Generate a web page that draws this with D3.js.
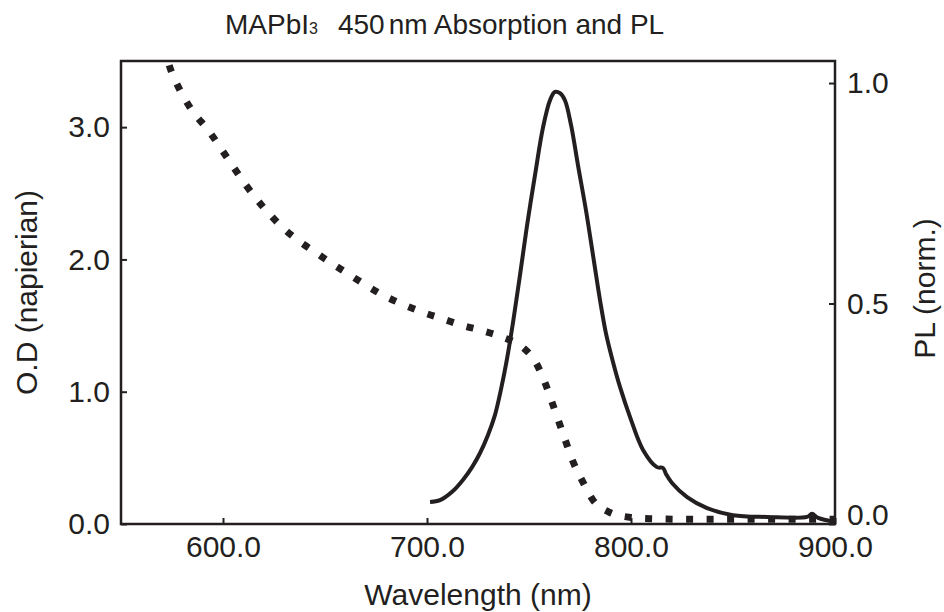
<!DOCTYPE html>
<html lang="en">
<head>
<meta charset="UTF-8">
<title>MAPbI3 450 nm Absorption and PL</title>
<style>
  body { margin: 0; background: #fff; }
  text { font-family: "Liberation Sans", Arial, Helvetica, sans-serif; fill: #231f20; }
</style>
</head>
<body>
<div id="chart"></div>
<script src="https://d3js.org/d3.v7.min.js"></script>
<script>
// absorption (left axis, O.D napierian)
const absNm  = [571, 573, 578.9, 583.8, 593.6, 602, 611.8, 627.9, 647.5, 657.4, 669.6, 678.4, 688.2, 698, 707.8, 717.6, 727.5, 737.3, 746.6, 753.4, 757.8, 761.3, 764.7, 768.1, 771.6, 776, 781.4, 789.2, 799.5, 809.3, 833.8, 900];
const absOD  = [3.62, 3.5, 3.28, 3.15, 2.96, 2.77, 2.55, 2.26, 2.03, 1.93, 1.81, 1.73, 1.66, 1.6, 1.55, 1.5, 1.46, 1.41, 1.34, 1.22, 1.07, 0.92, 0.77, 0.62, 0.47, 0.33, 0.18, 0.09, 0.05, 0.04, 0.035, 0.035];

// photoluminescence (right axis, normalised)
const plNm   = [701.5, 706.4, 712.3, 717.6, 722.1, 726, 729.9, 733.3, 736.3, 739.2, 742.2, 745.6, 749, 752.9, 756.9, 760.3, 762.7, 765.2, 767.6, 770.6, 774, 777.9, 781.9, 784.8, 787.7, 791.2, 794.6, 799.5, 805.9, 812.7, 815.7, 817.2, 820.1, 827.5, 837.3, 850, 866.7, 886.3, 888.7, 891.7, 900];
const plVal  = [0.05, 0.054, 0.073, 0.1, 0.129, 0.161, 0.202, 0.247, 0.306, 0.374, 0.458, 0.565, 0.676, 0.79, 0.9, 0.961, 0.98, 0.977, 0.961, 0.905, 0.814, 0.712, 0.594, 0.508, 0.433, 0.367, 0.311, 0.243, 0.168, 0.129, 0.127, 0.113, 0.093, 0.061, 0.036, 0.02, 0.016, 0.016, 0.023, 0.014, 0.005];

const xTicks = [600, 700, 800, 900];
const yLeftTicks = [0, 1, 2, 3];
const yRightTicks = [0, 0.5, 1.0];

const margin = {top: 61, right: 109, bottom: 88, left: 121},
  width = 944 - margin.left - margin.right,
  height = 612 - margin.top - margin.bottom;

const ink = "#231f20";

const svg = d3.select("#chart")
  .append("svg")
    .attr("width", 944)
    .attr("height", 612);

const g = svg.append("g")
    .attr("transform", `translate(${margin.left},${margin.top})`);

// scales
const x = d3.scaleLinear().domain([550, 900]).range([0, width]);
const yL = d3.scaleLinear().domain([0, 3.5]).range([height, 0]);
const yR = d3.scaleLinear().domain([0, 1.05]).range([height, 0]);

g.append("clipPath").attr("id", "plotclip")
  .append("rect").attr("width", width).attr("height", height);

// curves
const absData = absNm.map((d, i) => [d, absOD[i]]);
const plData = plNm.map((d, i) => [d, plVal[i]]);

g.append("path")
  .datum(absData)
  .attr("clip-path", "url(#plotclip)")
  .attr("fill", "none")
  .attr("stroke", ink)
  .attr("stroke-width", 7)
  .attr("stroke-dasharray", "7,13.5")
  .attr("d", d3.line().x(d => x(d[0])).y(d => yL(d[1])).curve(d3.curveMonotoneX));

g.append("path")
  .datum(plData)
  .attr("clip-path", "url(#plotclip)")
  .attr("fill", "none")
  .attr("stroke", ink)
  .attr("stroke-width", 4)
  .attr("stroke-linejoin", "round")
  .attr("d", d3.line().x(d => x(d[0])).y(d => yR(d[1])).curve(d3.curveCatmullRom.alpha(0.5)));

// axes, ticks pointing in
const fmt = d3.format(".1f");

const xAxis = g.append("g")
  .attr("transform", `translate(0,${height})`)
  .call(d3.axisBottom(x).tickValues(xTicks).tickFormat(fmt).tickSize(-6).tickPadding(12));

const leftAxis = g.append("g")
  .call(d3.axisLeft(yL).tickValues(yLeftTicks).tickFormat(fmt).tickSize(-6).tickPadding(11));

const rightAxis = g.append("g")
  .attr("transform", `translate(${width},0)`)
  .call(d3.axisRight(yR).tickValues(yRightTicks).tickFormat(fmt).tickSize(-6).tickPadding(12));

[xAxis, leftAxis, rightAxis].forEach(a => {
  a.select(".domain").remove();
  a.selectAll(".tick line").attr("stroke", ink).attr("stroke-width", 2);
  a.selectAll(".tick text").attr("font-size", 30).attr("fill", ink)
    .style("font-family", "'Liberation Sans', Arial, sans-serif");
});

// lift the right-hand 0.0 clear of the 900.0 label
rightAxis.selectAll(".tick text").filter(d => d === 0).attr("dy", "0.0em");

// frame
g.append("rect")
  .attr("width", width)
  .attr("height", height)
  .attr("fill", "none")
  .attr("stroke", ink)
  .attr("stroke-width", 2.5);

// axis titles
svg.append("text")
  .attr("x", margin.left + width / 2)
  .attr("y", 605)
  .attr("text-anchor", "middle")
  .attr("font-size", 30)
  .text("Wavelength (nm)");

svg.append("text")
  .attr("transform", `translate(37,${margin.top + height / 2}) rotate(-90)`)
  .attr("text-anchor", "middle")
  .attr("font-size", 30)
  .text("O.D (napierian)");

svg.append("text")
  .attr("transform", `translate(935,${margin.top + height / 2 - 4}) rotate(-90)`)
  .attr("text-anchor", "middle")
  .attr("font-size", 30)
  .text("PL (norm.)");

// title with subscript 3
const title = svg.append("text")
  .attr("x", 225)
  .attr("y", 34)
  .attr("font-size", 28);
title.append("tspan").text("MAPbI");
title.append("tspan").attr("font-size", 16).text("3");
title.append("tspan").attr("dx", 20).text("450");
title.append("tspan").attr("dx", 4).text("nm Absorption and PL");
</script>
</body>
</html>
